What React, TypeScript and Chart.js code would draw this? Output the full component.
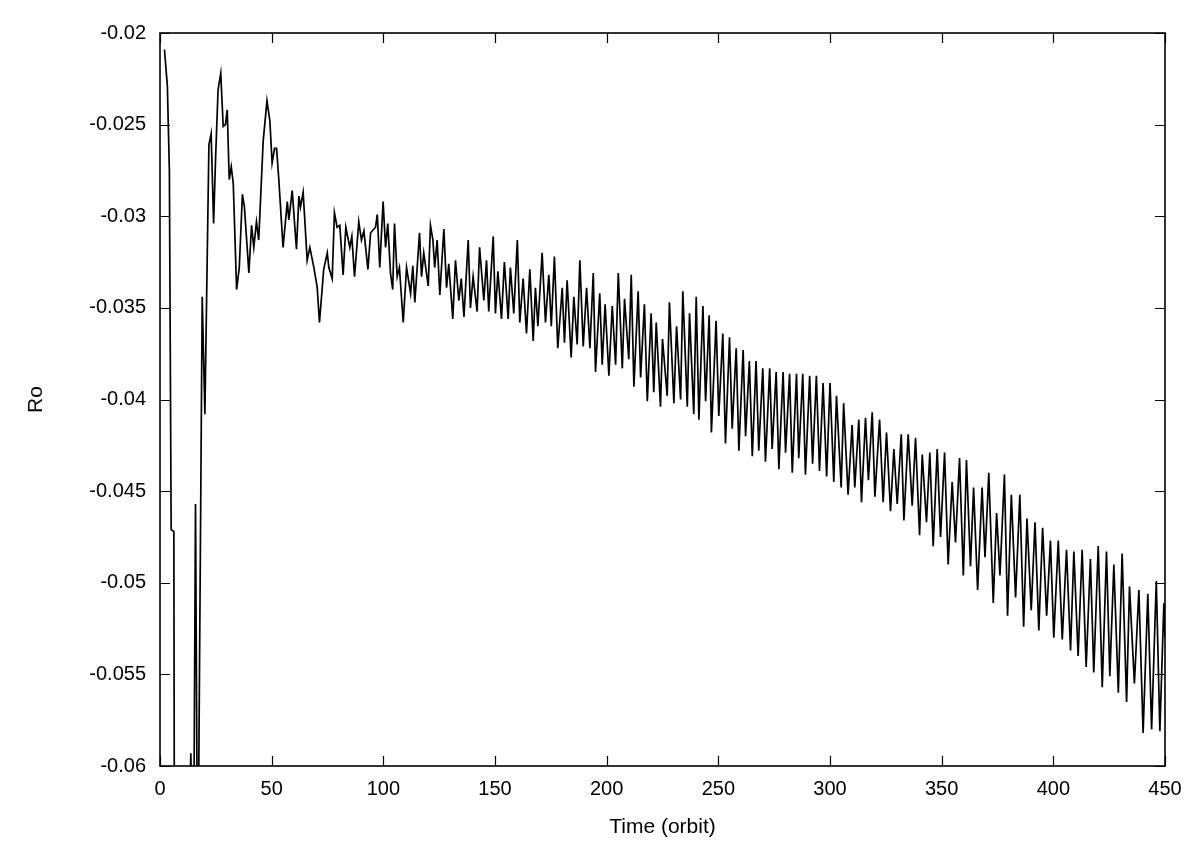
import React, { useEffect, useRef } from 'react';
import { Chart, registerables } from 'chart.js';

Chart.register(...registerables);

// Early transient phase (time in orbits, Rossby number)
const earlyTime = [
  2.0, 3.3, 4.2, 5.0, 6.2, 6.6, 9.5, 12.5, 13.8, 15.0, 15.9, 16.9, 18.9, 20.1, 21.9, 22.9, 24.0, 24.9,
  26.0, 27.2, 28.3, 29.3, 30.1, 31.0, 31.9, 32.8, 34.3, 35.5, 36.9, 37.8, 39.8, 41.0, 42.0, 43.2, 44.2,
  46.2, 47.9, 49.2, 50.2, 51.3, 52.2, 53.2, 55.1, 57.0, 57.7, 59.2, 61.1, 62.2, 62.9, 64.1, 65.9, 67.1,
  68.9, 70.4, 71.4, 73.3, 74.9, 75.6, 77.1, 78.1, 79.3, 80.5, 82.0, 83.2, 85.0, 85.9, 87.1, 89.0, 90.2,
  91.3, 93.1, 94.3, 96.5, 97.3, 98.4, 99.9,
];
const earlyRo = [
  -0.0209, -0.0229, -0.0275, -0.0471, -0.0472, -0.075, -0.075, -0.067, -0.0593, -0.0665, -0.0457, -0.068,
  -0.0344, -0.0408, -0.0261, -0.0255, -0.0304, -0.0268, -0.0231, -0.0222, -0.0251, -0.025, -0.0242,
  -0.028, -0.0273, -0.0282, -0.034, -0.0328, -0.0288, -0.0295, -0.0331, -0.0305, -0.0317, -0.0303,
  -0.0313, -0.0259, -0.0237, -0.0248, -0.0271, -0.0263, -0.0263, -0.028, -0.0317, -0.0292, -0.0302,
  -0.0286, -0.0318, -0.0289, -0.0295, -0.0287, -0.0324, -0.0317, -0.0328, -0.0339, -0.0358, -0.0329,
  -0.032, -0.0328, -0.0334, -0.0298, -0.0306, -0.0305, -0.0332, -0.0306, -0.0317, -0.0311, -0.0333,
  -0.0303, -0.0313, -0.0308, -0.0329, -0.0309, -0.0306, -0.0299, -0.0328, -0.0292,
];

// Middle phase, 100 - 200 orbits
const midTime = [
  101.0, 102.0, 103.2, 104.2, 105.0, 106.2, 107.2, 108.9, 110.4, 112.2, 113.2, 114.1, 116.2, 117.1,
  118.1, 120.1, 121.1, 122.2, 123.0, 124.1, 125.3, 127.1, 128.3, 129.3, 131.1, 132.3, 133.8, 134.9,
  136.1, 138.0, 139.0, 140.2, 142.0, 143.1, 145.0, 146.2, 147.2, 149.2, 150.2, 151.3, 152.9, 154.2,
  155.9, 156.9, 158.4, 160.0, 161.1, 162.6, 164.1, 165.6, 167.1, 168.1, 169.2, 171.1, 172.6, 174.1,
  175.2, 176.6, 178.1, 180.1, 181.1, 182.3, 184.1, 185.3, 186.8, 188.0, 189.5, 191.0, 192.5, 194.0,
  195.0, 196.9, 198.0, 199.3,
];
const midRo = [
  -0.0317, -0.0304, -0.0331, -0.034, -0.0304, -0.0333, -0.0328, -0.0358, -0.0328, -0.0342, -0.0327,
  -0.0347, -0.0309, -0.0333, -0.032, -0.0338, -0.0305, -0.0313, -0.0328, -0.0313, -0.0343, -0.0307,
  -0.0339, -0.0326, -0.0356, -0.0324, -0.0346, -0.0334, -0.0355, -0.0313, -0.035, -0.0333, -0.0352,
  -0.0317, -0.0346, -0.0324, -0.0352, -0.0311, -0.0353, -0.033, -0.0356, -0.0325, -0.0356, -0.0328,
  -0.0353, -0.0313, -0.0358, -0.0334, -0.0364, -0.0329, -0.0368, -0.0339, -0.036, -0.032, -0.0358,
  -0.0332, -0.036, -0.0322, -0.0372, -0.0339, -0.0369, -0.0335, -0.0377, -0.0344, -0.037, -0.0324,
  -0.0371, -0.0339, -0.0372, -0.0331, -0.0385, -0.0342, -0.0381, -0.0348,
];

// Oscillating phase, 200 - 320 orbits
const lateTime = [
  201.0, 202.5, 204.0, 205.2, 207.0, 208.0, 209.9, 211.0, 212.2, 214.1, 215.2, 216.9, 218.2, 219.9,
  221.1, 222.2, 224.1, 225.0, 227.1, 228.1, 230.1, 231.3, 233.1, 234.1, 236.1, 237.1, 239.0, 240.1,
  241.3, 243.1, 244.3, 245.9, 246.9, 249.0, 250.2, 252.0, 253.2, 255.0, 256.2, 258.0, 259.2, 261.1,
  262.2, 263.9, 265.2, 266.9, 268.1, 269.9, 271.1, 273.0, 274.1, 275.9, 277.1, 279.0, 280.1, 281.9,
  283.1, 285.0, 286.0, 287.8, 289.0, 290.9, 292.2, 293.9, 295.3, 296.9, 298.5, 300.0, 301.7, 302.9,
  305.0, 306.1, 308.1, 309.9, 311.1, 312.9, 314.1, 315.9, 317.2, 318.9,
];
const lateRo = [
  -0.0387, -0.0349, -0.0381, -0.0331, -0.0383, -0.0345, -0.0378, -0.0332, -0.0393, -0.0341, -0.0388,
  -0.0348, -0.0401, -0.0353, -0.0396, -0.0358, -0.0404, -0.0367, -0.0398, -0.0347, -0.0402, -0.036,
  -0.04, -0.0341, -0.0404, -0.0353, -0.0408, -0.0344, -0.0411, -0.0349, -0.0401, -0.0354, -0.0418,
  -0.0357, -0.0409, -0.0364, -0.0424, -0.0366, -0.0416, -0.0372, -0.0428, -0.0373, -0.042, -0.0379,
  -0.0431, -0.0379, -0.0428, -0.0383, -0.0434, -0.0383, -0.0427, -0.0385, -0.0438, -0.0385, -0.0429,
  -0.0386, -0.044, -0.0386, -0.0432, -0.0386, -0.0441, -0.0387, -0.0435, -0.0387, -0.0439, -0.0391,
  -0.0442, -0.0391, -0.0445, -0.0398, -0.0448, -0.0402, -0.0452, -0.0414, -0.0448, -0.0411, -0.0456,
  -0.041, -0.0444, -0.0407,
];

// Final phase, 320 - 450 orbits
const finalTime = [
  320.1, 322.2, 323.8, 325.3, 327.1, 328.6, 330.1, 331.9, 333.1, 335.0, 336.8, 338.3, 340.1, 341.3,
  343.2, 344.7, 346.2, 348.0, 349.5, 351.3, 352.9, 354.7, 356.2, 358.0, 359.7, 361.1, 362.9, 364.3,
  366.1, 368.1, 369.4, 371.1, 373.1, 374.6, 376.1, 378.1, 379.5, 381.2, 383.1, 385.0, 386.7, 388.2,
  390.1, 391.8, 393.5, 395.2, 397.0, 398.7, 400.2, 402.2, 404.0, 405.9, 407.7, 409.2, 411.1, 412.9,
  414.7, 416.6, 418.1, 420.1, 421.9, 423.8, 425.3, 427.1, 429.1, 430.8, 432.8, 434.1, 436.3, 438.3,
  440.2, 442.3, 444.0, 446.1, 447.7, 449.5, 450.0,
];
const finalRo = [
  -0.0453, -0.0411, -0.0456, -0.0418, -0.0461, -0.0427, -0.0457, -0.0419, -0.0466, -0.0419, -0.0458,
  -0.0421, -0.0474, -0.043, -0.0467, -0.0429, -0.048, -0.0427, -0.0475, -0.0429, -0.049, -0.0445,
  -0.0478, -0.0432, -0.0496, -0.0433, -0.0491, -0.0448, -0.0504, -0.0448, -0.0486, -0.044, -0.0511,
  -0.0462, -0.0496, -0.0441, -0.0518, -0.0452, -0.0508, -0.0452, -0.0524, -0.0465, -0.0515, -0.0467,
  -0.0526, -0.047, -0.0518, -0.0477, -0.053, -0.0477, -0.0531, -0.0482, -0.0537, -0.0483, -0.054,
  -0.0482, -0.0546, -0.0487, -0.0549, -0.048, -0.0557, -0.0483, -0.0551, -0.049, -0.056, -0.0484,
  -0.0565, -0.0502, -0.0555, -0.0504, -0.0582, -0.0506, -0.058, -0.0499, -0.0581, -0.0511, -0.053,
];

const xMin = 0;
const xMax = 450;
const xStep = 50;
const yMin = -0.06;
const yMax = -0.02;
const yStep = 0.005;
const xTitle = 'Time (orbit)';
const yTitle = 'Ro';

const allTime = [...earlyTime, ...midTime, ...lateTime, ...finalTime];
const allRo = [...earlyRo, ...midRo, ...lateRo, ...finalRo];

const FONT = '"Liberation Sans", Arial, Helvetica, sans-serif';

const framePlugin = {
  id: 'gnuplotFrame',
  afterDatasetsDraw(chart: any) {
    const { ctx, chartArea: a, scales } = chart;
    ctx.save();
    ctx.strokeStyle = '#000';
    ctx.lineWidth = 1.2;
    ctx.beginPath();
    const tl = 10;
    scales.x.ticks.forEach((t: any) => {
      const px = Math.round(scales.x.getPixelForValue(t.value)) + 0.5;
      ctx.moveTo(px, a.bottom);
      ctx.lineTo(px, a.bottom - tl);
      ctx.moveTo(px, a.top);
      ctx.lineTo(px, a.top + tl);
    });
    scales.y.ticks.forEach((t: any) => {
      const py = Math.round(scales.y.getPixelForValue(t.value)) + 0.5;
      ctx.moveTo(a.left, py);
      ctx.lineTo(a.left + tl, py);
      ctx.moveTo(a.right, py);
      ctx.lineTo(a.right - tl, py);
    });
    ctx.stroke();
    ctx.lineWidth = 1.6;
    ctx.strokeRect(a.left, a.top, a.right - a.left, a.bottom - a.top);
    ctx.restore();
  },
};

export default function App() {
  const canvasRef = useRef<HTMLCanvasElement | null>(null);

  useEffect(() => {
    if (!canvasRef.current) return;
    const points = allTime.map((t, i) => ({ x: t, y: allRo[i] }));
    const chart = new Chart(canvasRef.current, {
      type: 'line',
      data: {
        datasets: [
          {
            data: points,
            borderColor: '#000',
            borderWidth: 1.7,
            pointRadius: 0,
            tension: 0,
            fill: false,
          },
        ],
      },
      options: {
        animation: false,
        responsive: false,
        devicePixelRatio: 1,
        layout: { padding: { top: 33, right: 35, bottom: 0, left: 0 } },
        plugins: {
          legend: { display: false },
          tooltip: { enabled: false },
        },
        scales: {
          x: {
            type: 'linear',
            min: xMin,
            max: xMax,
            ticks: {
              stepSize: xStep,
              color: '#000',
              padding: 11,
              font: { family: FONT, size: 20 },
              maxRotation: 0,
            },
            grid: { display: false, drawTicks: false },
            border: { display: false },
            title: {
              display: true,
              text: xTitle,
              color: '#000',
              font: { family: FONT, size: 21 },
              padding: { top: 0, bottom: 4 },
            },
            afterFit: (s: any) => {
              s.height = 78;
            },
          },
          y: {
            type: 'linear',
            min: yMin,
            max: yMax,
            ticks: {
              stepSize: yStep,
              color: '#000',
              padding: 14,
              font: { family: FONT, size: 20 },
              callback: (v: any) => String(Number(Number(v).toFixed(4))),
            },
            grid: { display: false, drawTicks: false },
            border: { display: false },
            title: {
              display: true,
              text: yTitle,
              color: '#000',
              font: { family: FONT, size: 21 },
              padding: { top: 24, bottom: 24 },
            },
            afterFit: (s: any) => {
              s.width = 160;
            },
          },
        },
      },
      plugins: [framePlugin],
    });
    return () => chart.destroy();
  }, []);

  return (
    <div style={{ position: 'fixed', left: 0, top: 0, width: 1200, height: 844, background: '#fff' }}>
      <canvas ref={canvasRef} width={1200} height={844} style={{ display: 'block' }} />
    </div>
  );
}
